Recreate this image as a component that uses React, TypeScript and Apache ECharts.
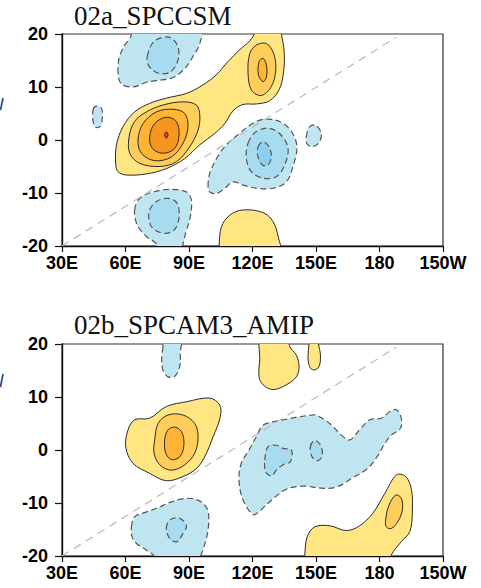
import React, { useEffect, useRef } from 'react';
import * as echarts from 'echarts';

type Pt = [number, number];

// axis ticks
const xTicks = [30, 60, 90, 120, 150, 180, 210];
const xTickLabels = ['30E', '60E', '90E', '120E', '150E', '180', '150W'];
const yTicks = [-20, -10, 0, 10, 20];

const panelTitles = ['02a_SPCCSM', '02b_SPCAM3_AMIP'];

// fill colours by contour level (positive: yellow -> red, negative: pale -> deeper blue)
const posFill = ['#FFE683', '#FFCD5A', '#FFB434', '#F7951F', '#E8472B'];
const negFill = ['#BFE6F0', '#A7DBF0', '#8ECEF0'];

// reference line (lon, lat)
const refLine: Pt[] = [[30, -20], [188, 19.4]];

// ---------- panel a contours (lon, lat) ----------
const aPos1: Pt[] = [[55.4, -4.7], [55.7, -1.0], [58.8, 2.5], [64.3, 5.3], [71.4, 6.9], [79.3, 7.9], [88.8, 8.8], [96.6, 10.4], [102.9, 12.3], [108.4, 14.8], [113.9, 17.0], [118.7, 18.7], [121.3, 20.4], [122, 22], [133, 22], [133.6, 20.2], [135.0, 16.5], [134.6, 12.6], [132.6, 9.5], [128.1, 7.4], [121.8, 6.8], [115.5, 6.7], [110.8, 5.5], [106.9, 3.1], [102.1, 1.2], [95.1, -0.9], [88.0, -3.5], [79.3, -5.4], [69.9, -6.4], [60.4, -6.6], [56.5, -6.0]];
const aPos2: Pt[] = [[61.7, 0.6], [64.3, 3.5], [69.9, 5.3], [77.7, 6.6], [87.2, 7.2], [93.5, 6.6], [95.1, 4.7], [94.3, 1.9], [90.3, -1.3], [84.0, -4.1], [76.2, -5.0], [66.7, -4.4], [62.0, -2.5]];
const aPos3: Pt[] = [[65.9, 0.0], [68.3, 3.1], [74.6, 5.3], [82.5, 5.8], [88.0, 5.0], [89.5, 2.5], [87.2, -0.6], [81.7, -3.2], [73.8, -3.9], [67.5, -2.5]];
const aPos4: Pt[] = [[71.4, 0.6], [73.8, 3.1], [79.3, 4.3], [84.0, 3.5], [85.3, 0.9], [83.2, -1.6], [77.7, -2.5], [72.7, -1.6]];
const aPos5: Pt[] = [[78.5, 0.95], [79.3, 1.55], [80.1, 0.95], [79.3, 0.35]];
const aPos2b: Pt[] = [[118.7, 16.3], [121.8, 17.9], [126.6, 18.2], [130.0, 16.3], [131.0, 13.2], [128.9, 10.1], [124.2, 8.4], [119.5, 9.4], [117.9, 12.6]];
const aPos3b: Pt[] = [[123.1, 14.8], [125.0, 15.4], [126.6, 14.1], [126.6, 11.9], [125.0, 11.0], [122.8, 12.3]];
const aPos1c: Pt[] = [[104.0, -21.5], [104.2, -20], [105.3, -16.4], [109.2, -14.2], [115.5, -13.2], [125.0, -13.7], [129.7, -15.4], [132.1, -18.2], [132.8, -21.5]];

const aNeg1: Pt[] = [[56.5, 12.6], [57.0, 15.5], [59.5, 17.8], [62.5, 19.5], [63, 21.5], [95.5, 21.5], [95.1, 18.2], [91.9, 15.8], [88.3, 13.6], [82.5, 11.8], [74.6, 11.2], [69.9, 10.9], [63.5, 10.0], [58.0, 10.6]];
const aNeg1b: Pt[] = [[70.3, 15.8], [73.5, 18.6], [80.5, 19.4], [84.8, 17.6], [84.6, 14.8], [81.0, 12.8], [75.5, 12.6], [71.0, 14.0]];
const aNeg2: Pt[] = [[44.7, 5.7], [46.2, 6.4], [48.6, 6.0], [49.1, 4.4], [48.1, 2.6], [45.9, 2.4], [44.7, 3.5]];
const aNeg3: Pt[] = [[99.0, -8.8], [99.8, -6.3], [104.5, -2.5], [108.4, -0.6], [113.9, 1.25], [118.7, 2.8], [125.0, 3.9], [132.8, 3.5], [138.4, 1.6], [141.0, -1.3], [139.1, -5.0], [136.0, -7.9], [129.7, -9.1], [121.8, -9.1], [115.5, -8.5], [110.8, -7.9], [106.9, -9.1], [102.9, -10.1], [99.8, -9.8]];
const aNeg3b: Pt[] = [[117.9, -0.6], [121.8, 1.6], [128.1, 2.2], [133.6, 0.9], [136.8, -1.6], [135.2, -4.7], [131.3, -6.9], [125.0, -7.2], [119.5, -6.0], [117.1, -3.5]];
const aNeg3c: Pt[] = [[122.6, -1.3], [125.0, -0.3], [127.8, -1.3], [128.9, -3.2], [127.3, -4.7], [124.7, -4.7], [122.6, -3.2]];
const aNeg4: Pt[] = [[145.4, 0.6], [147.0, 2.5], [149.8, 2.8], [152.5, 1.25], [151.4, -0.5], [148.3, -1.25], [145.8, -0.75]];
const aNeg5: Pt[] = [[64.3, -13.2], [66.7, -11.0], [73.0, -9.8], [80.9, -9.3], [88.8, -9.8], [91.1, -11.3], [90.6, -14.5], [88.4, -17.6], [87.0, -20], [86.8, -21.5], [75.5, -21.5], [74.6, -19.6], [69.9, -18.2], [65.5, -16.0]];
const aNeg5b: Pt[] = [[71.4, -13.2], [74.6, -11.6], [80.1, -11.0], [84.3, -11.9], [85.3, -14.5], [83.2, -16.9], [78.5, -17.6], [73.0, -16.7], [71.1, -15.1]];

// ---------- panel b contours (lon, lat) ----------
const bNeg1: Pt[] = [[77.7, 19.5], [77.5, 21.5], [86.0, 21.5], [85.9, 18.2], [85.6, 15.7], [83.2, 13.9], [80.1, 13.8], [77.7, 15.1], [77.1, 17.6]];
const bPos1: Pt[] = [[60.1, 0.6], [61.2, 3.8], [64.3, 5.7], [71.4, 6.0], [79.3, 8.2], [88.8, 9.1], [99.8, 9.8], [104.5, 8.5], [104.8, 6.3], [101.4, 2.5], [97.4, -1.3], [93.5, -3.5], [87.2, -5.0], [79.3, -5.8], [71.4, -4.4], [63.5, -2.5]];
const bPos2: Pt[] = [[73.8, 1.9], [75.4, 5.0], [80.1, 6.6], [87.2, 6.6], [92.7, 5.0], [94.3, 2.5], [92.7, -0.6], [88.0, -2.8], [81.7, -3.8], [76.2, -2.8], [73.5, -0.6]];
const bPos3: Pt[] = [[78.5, 1.9], [80.1, 3.8], [83.7, 4.3], [86.9, 3.1], [87.5, 0.6], [85.6, -1.3], [81.7, -1.8], [79.0, -0.6]];
const bNeg2: Pt[] = [[62.8, -14.5], [64.3, -12.6], [68.3, -11.9], [74.6, -11.0], [81.7, -9.8], [89.5, -9.1], [95.8, -9.8], [99.0, -11.6], [99.0, -15.1], [96.6, -18.9], [95.5, -20], [95.3, -21.5], [74, -21.5], [73.5, -20.0], [69.9, -18.9], [65.1, -17.6], [63.1, -16.4]];
const bNeg2b: Pt[] = [[79.3, -14.8], [80.9, -13.2], [85.6, -12.9], [88.8, -14.3], [87.2, -15.7], [84.3, -17.3], [80.9, -16.7]];
const bPos4: Pt[] = [[124.2, 21.5], [123.4, 17.0], [123.1, 13.8], [125.0, 12.3], [129.7, 11.4], [136.0, 12.3], [140.7, 13.8], [142.0, 15.7], [140.7, 17.9], [137.6, 19.5], [136.5, 21.5]];
const bPos5: Pt[] = [[146.7, 21.5], [146.7, 20.0], [146.2, 17.6], [147.0, 15.7], [148.9, 15.1], [151.4, 15.7], [152.1, 17.9], [151.2, 20], [151.2, 21.5]];
const bNeg3: Pt[] = [[125.0, 4.7], [129.7, 5.3], [136.0, 5.8], [142.3, 6.3], [148.6, 6.6], [150.2, 6.6], [156.5, 5.0], [162.0, 2.8], [165.9, 1.9], [170.6, 3.8], [175.4, 5.7], [180.9, 6.0], [184.8, 7.2], [188.0, 7.6], [190.3, 6.0], [189.9, 4.1], [185.6, 2.8], [182.5, 1.2], [179.3, -1.0], [174.6, -3.4], [167.5, -5.2], [159.6, -7.0], [152.5, -7.2], [143.9, -6.8], [136.0, -7.4], [129.7, -9.2], [123.4, -11.5], [120.3, -12.2], [115.5, -9.4], [113.6, -5.7], [114.7, -2.5], [117.9, -0.3], [121.8, 2.5]];
const bNeg3b: Pt[] = [[125.8, -1.9], [127.3, 0.6], [131.3, 0.9], [134.4, 0.3], [138.4, 0.0], [137.9, -2.2], [134.4, -2.8], [131.3, -3.8], [128.9, -4.9], [126.2, -4.1]];
const bNeg3c: Pt[] = [[147.3, 0.6], [149.4, 1.8], [152.1, 0.9], [153.0, -0.95], [151.0, -2.0], [148.3, -1.4]];
const bPos6: Pt[] = [[144.6, -21.5], [144.7, -19.8], [145.8, -16.4], [149.4, -14.5], [156.5, -14.3], [164.3, -15.2], [170.6, -14.3], [176.9, -11.9], [182.5, -8.2], [188.0, -4.7], [192.4, -5.0], [195.1, -7.5], [195.5, -11.9], [194.3, -15.4], [190.3, -17.3], [185.6, -19.8], [185.2, -21.5]];
const bPos7: Pt[] = [[182.9, -13.2], [184.5, -10.4], [187.7, -8.5], [190.3, -9.1], [190.8, -11.3], [188.7, -13.5], [185.6, -14.8], [183.2, -14.5]];

type Contour = { pts: Pt[]; sign: 1 | -1; level: number };

const panelAContours: Contour[] = [
  { pts: aPos1, sign: 1, level: 0 },
  { pts: aPos2, sign: 1, level: 1 },
  { pts: aPos3, sign: 1, level: 2 },
  { pts: aPos4, sign: 1, level: 3 },
  { pts: aPos5, sign: 1, level: 4 },
  { pts: aPos2b, sign: 1, level: 1 },
  { pts: aPos3b, sign: 1, level: 2 },
  { pts: aPos1c, sign: 1, level: 0 },
  { pts: aNeg1, sign: -1, level: 0 },
  { pts: aNeg1b, sign: -1, level: 1 },
  { pts: aNeg2, sign: -1, level: 0 },
  { pts: aNeg3, sign: -1, level: 0 },
  { pts: aNeg3b, sign: -1, level: 1 },
  { pts: aNeg3c, sign: -1, level: 2 },
  { pts: aNeg4, sign: -1, level: 0 },
  { pts: aNeg5, sign: -1, level: 0 },
  { pts: aNeg5b, sign: -1, level: 1 },
];

const panelBContours: Contour[] = [
  { pts: bNeg1, sign: -1, level: 0 },
  { pts: bPos1, sign: 1, level: 0 },
  { pts: bPos2, sign: 1, level: 1 },
  { pts: bPos3, sign: 1, level: 2 },
  { pts: bNeg2, sign: -1, level: 0 },
  { pts: bNeg2b, sign: -1, level: 1 },
  { pts: bPos4, sign: 1, level: 0 },
  { pts: bPos5, sign: 1, level: 0 },
  { pts: bNeg3, sign: -1, level: 0 },
  { pts: bNeg3b, sign: -1, level: 1 },
  { pts: bNeg3c, sign: -1, level: 1 },
  { pts: bPos6, sign: 1, level: 0 },
  { pts: bPos7, sign: 1, level: 1 },
];

const GRID_LEFT = 62;
const GRID_W = 381;
const GRID_H = 212;
const GRID_TOPS = [34, 344];
const SANS = 'Liberation Sans, Arial, sans-serif';

function contourSeries(contours: Contour[], axisIndex: number) {
  return {
    type: 'custom',
    xAxisIndex: axisIndex,
    yAxisIndex: axisIndex,
    clip: true,
    silent: true,
    data: contours.map((c) => c.pts[0]),
    renderItem: (params: any, api: any) => {
      const c = contours[params.dataIndex];
      const points = c.pts.map((p) => api.coord(p));
      const neg = c.sign < 0;
      return {
        type: 'polygon',
        shape: { points, smooth: 0.35 },
        style: {
          fill: neg ? negFill[c.level] : posFill[c.level],
          stroke: neg ? '#555' : '#2b2b2b',
          lineWidth: neg ? 1.2 : 1,
          lineDash: neg ? [6, 3.5] : null,
        },
      };
    },
  };
}

function refLineSeries(axisIndex: number) {
  return {
    type: 'line',
    xAxisIndex: axisIndex,
    yAxisIndex: axisIndex,
    data: refLine,
    symbol: 'none',
    silent: true,
    z: 5,
    lineStyle: { color: '#bdbdbd', width: 1.3, type: [8, 6] },
  };
}

const labelStyle = { color: '#000', fontSize: 18, fontWeight: 'bold' as const, fontFamily: SANS };

function xAxisFor(gridIndex: number) {
  return {
    type: 'value',
    gridIndex,
    min: 30,
    max: 210,
    interval: 30,
    axisLine: { show: true, onZero: false, lineStyle: { color: '#111', width: 1.4 } },
    axisTick: { show: true, length: 6, lineStyle: { color: '#111', width: 1.2 } },
    splitLine: { show: false },
    axisLabel: {
      margin: 8,
      ...labelStyle,
      formatter: (v: number) => xTickLabels[xTicks.indexOf(v)] ?? '',
    },
  };
}

function yAxisFor(gridIndex: number) {
  return {
    type: 'value',
    gridIndex,
    min: yTicks[0],
    max: yTicks[yTicks.length - 1],
    interval: 10,
    axisLine: { show: true, onZero: false, lineStyle: { color: '#111', width: 1.4 } },
    axisTick: { show: true, length: 7, lineStyle: { color: '#111', width: 1.2 } },
    splitLine: { show: false },
    axisLabel: { margin: 14, ...labelStyle },
  };
}

export default function App() {
  const ref = useRef<HTMLDivElement>(null);

  useEffect(() => {
    document.body.style.margin = '0';
    if (!ref.current) return;
    const chart = echarts.init(ref.current, null, { renderer: 'svg' });
    chart.setOption({
      animation: false,
      backgroundColor: '#fff',
      grid: GRID_TOPS.map((top) => ({
        left: GRID_LEFT,
        top,
        width: GRID_W,
        height: GRID_H,
        show: true,
        borderColor: '#333',
        borderWidth: 1.2,
        backgroundColor: 'transparent',
      })),
      xAxis: [xAxisFor(0), xAxisFor(1)],
      yAxis: [yAxisFor(0), yAxisFor(1)],
      series: [
        contourSeries(panelAContours, 0),
        refLineSeries(0),
        contourSeries(panelBContours, 1),
        refLineSeries(1),
      ],
      graphic: [
        {
          type: 'text',
          x: 74,
          y: 16,
          style: {
            text: panelTitles[0],
            font: '27px "Liberation Serif", "Times New Roman", serif',
            fill: '#111',
            verticalAlign: 'middle',
          },
        },
        {
          type: 'text',
          x: 74,
          y: 325,
          style: {
            text: panelTitles[1],
            font: '27px "Liberation Serif", "Times New Roman", serif',
            fill: '#111',
            verticalAlign: 'middle',
          },
        },
        {
          type: 'line',
          shape: { x1: 0.5, y1: 110, x2: 3, y2: 98 },
          style: { stroke: '#2d5496', lineWidth: 1.8 },
        },
        {
          type: 'line',
          shape: { x1: 0.5, y1: 387, x2: 3, y2: 374 },
          style: { stroke: '#2d5496', lineWidth: 1.8 },
        },
      ],
    });
    return () => chart.dispose();
  }, []);

  return <div ref={ref} style={{ width: 481, height: 588 }} />;
}
